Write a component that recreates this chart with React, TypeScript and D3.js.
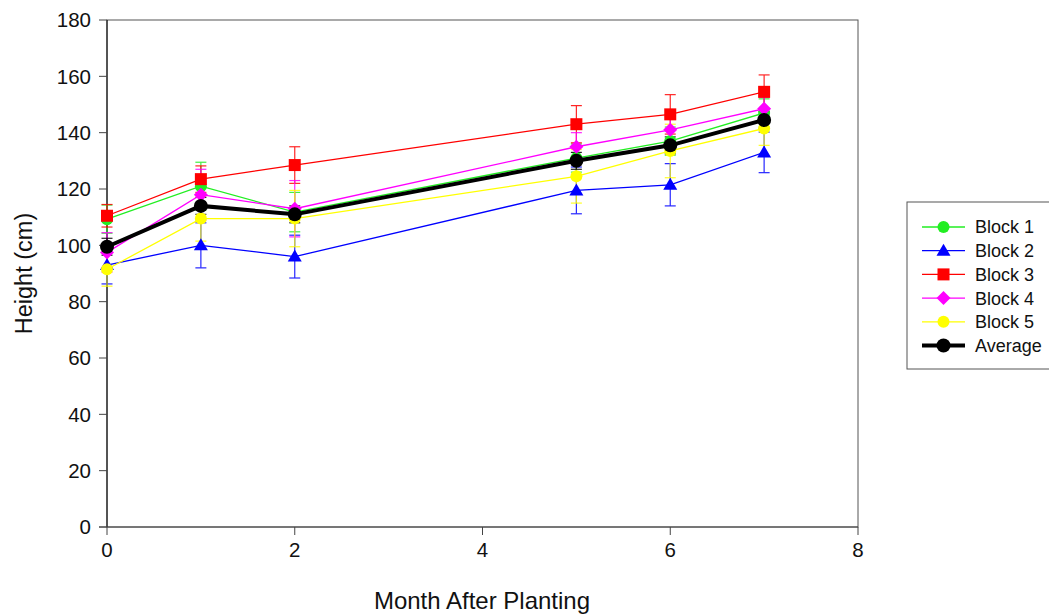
import React from "react";
import * as d3 from "d3";

const months = [0, 1, 2, 5, 6, 7];
const seriesNames = ["Block 1", "Block 2", "Block 3", "Block 4", "Block 5", "Average"];
const block1 = [109.3, 121, 111.8, 131, 137, 147];
const block2 = [93, 100, 96, 119.5, 121.5, 133];
const block3 = [110.5, 123.5, 128.5, 143, 146.5, 154.5];
const block4 = [97.5, 118, 113, 135, 141, 148.5];
const block5 = [91.5, 109.5, 109.5, 124.5, 133.5, 141.5];
const average = [99.5, 114, 111, 130, 135.5, 144.5];
const err1 = [5, 8.5, 7, 5, 5, 5];
const err2 = [6.7, 8, 7.6, 8.3, 7.5, 7.2];
const err3 = [4, 4.7, 6.5, 6.6, 7, 6];
const err4 = [7, 9, 10, 5, 5, 4];
const err5 = [6, 8, 10, 9.5, 9.5, 6];
const errAvg = [3, 3, 3, 3, 3, 3];
const xTicks = [0, 2, 4, 6, 8];
const yTicks = [0, 20, 40, 60, 80, 100, 120, 140, 160, 180];

const colors = ["#22ee22", "#0000ff", "#ff0000", "#ff00ff", "#ffff00", "#000000"];
const shapes = ["circle", "triangle", "square", "diamond", "circle", "circle"];

const values = [block1, block2, block3, block4, block5, average];
const errs = [err1, err2, err3, err4, err5, errAvg];

const font = "Liberation Sans, Arial, sans-serif";

function Marker({ shape, x, y, color, big }: { shape: string; x: number; y: number; color: string; big?: boolean }) {
  if (shape === "circle") return <circle cx={x} cy={y} r={big ? 7 : 6} fill={color} />;
  if (shape === "square") return <rect x={x - 6} y={y - 6} width={12} height={12} fill={color} />;
  if (shape === "triangle") return <path d={`M${x},${y - 7}L${x + 7},${y + 5}L${x - 7},${y + 5}Z`} fill={color} />;
  return <path d={`M${x},${y - 7}L${x + 7},${y}L${x},${y + 7}L${x - 7},${y}Z`} fill={color} />;
}

export default function App() {
  const left = 107, right = 858, top = 20, bottom = 527;
  const x = d3.scaleLinear().domain([0, 8]).range([left, right]);
  const y = d3.scaleLinear().domain([0, 180]).range([bottom, top]);
  const line = d3.line<number>().x((_, i) => x(months[i])).y((v) => y(v));

  return (
    <svg width={1049} height={614} style={{ position: "absolute", left: 0, top: 0 }} fontFamily={font}>
      <rect x={0} y={0} width={1049} height={614} fill="#fff" />
      {/* frame */}
      <rect x={left} y={top} width={right - left} height={bottom - top} fill="none" stroke="#555" strokeWidth={1} />
      <line x1={left} x2={left} y1={top} y2={bottom} stroke="#000" />
      <line x1={left - 8} x2={right} y1={bottom} y2={bottom} stroke="#444" />
      {yTicks.map((t) => (
        <g key={"y" + t}>
          <line x1={left - 8} x2={left} y1={y(t)} y2={y(t)} stroke="#444" />
          <text x={left - 16} y={y(t)} dy="0.35em" textAnchor="end" fontSize={20.5} fill="#111">{t}</text>
        </g>
      ))}
      {xTicks.map((t) => (
        <g key={"x" + t}>
          <line x1={x(t)} x2={x(t)} y1={bottom} y2={bottom + 8} stroke="#444" />
          <text x={x(t)} y={bottom + 30} textAnchor="middle" fontSize={20.5} fill="#111">{t}</text>
        </g>
      ))}
      <text transform={`translate(32,${(top + bottom) / 2}) rotate(-90)`} textAnchor="middle" fontSize={23.5} fill="#111">Height (cm)</text>
      <text x={482} y={609} textAnchor="middle" fontSize={24} fill="#111">Month After Planting</text>

      {/* error bars */}
      {values.map((vals, s) =>
        vals.map((v, i) => {
          const cx = x(months[i]);
          const e = errs[s][i];
          return (
            <g key={`e${s}-${i}`} stroke={colors[s]} strokeWidth={1.2} opacity={0.85}>
              <line x1={cx} x2={cx} y1={y(v - e)} y2={y(v + e)} />
              <line x1={cx - 5.5} x2={cx + 5.5} y1={y(v - e)} y2={y(v - e)} />
              <line x1={cx - 5.5} x2={cx + 5.5} y1={y(v + e)} y2={y(v + e)} />
            </g>
          );
        })
      )}

      {/* lines and markers */}
      {values.map((vals, s) => (
        <g key={"s" + s}>
          <path d={line(vals) || ""} fill="none" stroke={colors[s]} strokeWidth={s === 5 ? 4 : 1.3} />
          {vals.map((v, i) => (
            <Marker key={i} shape={shapes[s]} x={x(months[i])} y={y(v)} color={colors[s]} big={s === 5} />
          ))}
        </g>
      ))}

      {/* legend */}
      <rect x={907} y={202} width={150} height={167} fill="#fff" stroke="#555" strokeWidth={1} />
      {seriesNames.map((n, s) => {
        const ly = 227 + s * 23.7;
        return (
          <g key={"l" + s}>
            <line x1={922} x2={965} y1={ly} y2={ly} stroke={colors[s]} strokeWidth={s === 5 ? 4 : 1.3} />
            <Marker shape={shapes[s]} x={943.5} y={ly} color={colors[s]} big={s === 5} />
            <text x={975} y={ly} dy="0.36em" fontSize={18} fill="#111">{n}</text>
          </g>
        );
      })}
    </svg>
  );
}
